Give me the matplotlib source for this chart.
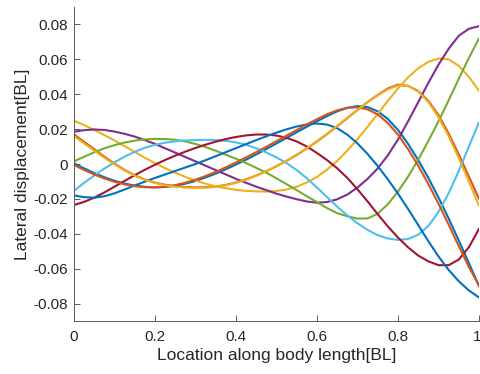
import matplotlib
matplotlib.use("Agg")
import matplotlib.pyplot as plt
from matplotlib.transforms import ScaledTranslation

plt.rcParams['font.family'] = ['Liberation Sans', 'DejaVu Sans']

# Sampling positions along the body (fraction of body length)
location = [0.000, 0.025, 0.050, 0.075, 0.100, 0.125, 0.150, 0.175, 0.200, 0.225,
            0.250, 0.275, 0.300, 0.325, 0.350, 0.375, 0.400, 0.425, 0.450, 0.475,
            0.500, 0.525, 0.550, 0.575, 0.600, 0.625, 0.650, 0.675, 0.700, 0.725,
            0.750, 0.775, 0.800, 0.825, 0.850, 0.875, 0.900, 0.925, 0.950, 0.975,
            1.000]

# Lateral displacement of the midline at successive instants [BL]
frame_1 = [0.0004, -0.0025, -0.0052, -0.0076, -0.0096, -0.0112, -0.0124, -0.0131, -0.0134, -0.0132,
           -0.0125, -0.0113, -0.0097, -0.0077, -0.0055, -0.0030, -0.0003, 0.0025, 0.0055, 0.0086,
           0.0118, 0.0150, 0.0182, 0.0214, 0.0245, 0.0275, 0.0302, 0.0322, 0.0332, 0.0326,
           0.0302, 0.0258, 0.0195, 0.0115, 0.0022, -0.0080, -0.0192, -0.0312, -0.0438, -0.0568,
           -0.0700]
frame_2 = [0.0170, 0.0127, 0.0085, 0.0042, 0.0002, -0.0034, -0.0065, -0.0089, -0.0107, -0.0119,
           -0.0127, -0.0132, -0.0134, -0.0133, -0.0129, -0.0120, -0.0106, -0.0088, -0.0066, -0.0041,
           -0.0013, 0.0018, 0.0052, 0.0089, 0.0129, 0.0172, 0.0217, 0.0263, 0.0310, 0.0355,
           0.0396, 0.0433, 0.0455, 0.0448, 0.0418, 0.0362, 0.0280, 0.0175, 0.0055, -0.0072,
           -0.0200]
frame_3 = [0.0248, 0.0223, 0.0195, 0.0166, 0.0135, 0.0102, 0.0069, 0.0036, 0.0005, -0.0024,
           -0.0050, -0.0074, -0.0095, -0.0113, -0.0128, -0.0139, -0.0148, -0.0154, -0.0157, -0.0158,
           -0.0155, -0.0146, -0.0130, -0.0106, -0.0074, -0.0032, 0.0018, 0.0077, 0.0143, 0.0214,
           0.0288, 0.0362, 0.0433, 0.0497, 0.0549, 0.0586, 0.0605, 0.0600, 0.0563, 0.0500,
           0.0420]
frame_4 = [0.0185, 0.0194, 0.0198, 0.0195, 0.0186, 0.0173, 0.0157, 0.0137, 0.0115, 0.0090,
           0.0065, 0.0040, 0.0015, -0.0010, -0.0035, -0.0060, -0.0085, -0.0108, -0.0130, -0.0150,
           -0.0170, -0.0187, -0.0202, -0.0215, -0.0222, -0.0218, -0.0202, -0.0175, -0.0135, -0.0085,
           -0.0025, 0.0050, 0.0140, 0.0245, 0.0355, 0.0465, 0.0570, 0.0660, 0.0735, 0.0775,
           0.0790]
frame_5 = [0.0015, 0.0042, 0.0067, 0.0090, 0.0108, 0.0123, 0.0134, 0.0141, 0.0144, 0.0143,
           0.0139, 0.0129, 0.0115, 0.0097, 0.0076, 0.0053, 0.0030, 0.0005, -0.0022, -0.0050,
           -0.0082, -0.0116, -0.0150, -0.0185, -0.0218, -0.0253, -0.0282, -0.0300, -0.0313, -0.0312,
           -0.0285, -0.0230, -0.0158, -0.0072, 0.0025, 0.0132, 0.0245, 0.0365, 0.0488, 0.0608,
           0.0720]
frame_6 = [-0.0153, -0.0108, -0.0066, -0.0026, 0.0010, 0.0042, 0.0070, 0.0093, 0.0110, 0.0122,
           0.0130, 0.0135, 0.0137, 0.0138, 0.0137, 0.0133, 0.0124, 0.0110, 0.0090, 0.0066,
           0.0038, 0.0005, -0.0035, -0.0082, -0.0135, -0.0190, -0.0245, -0.0295, -0.0340, -0.0378,
           -0.0408, -0.0427, -0.0435, -0.0430, -0.0405, -0.0355, -0.0275, -0.0168, -0.0040, 0.0100,
           0.0239]
frame_7 = [-0.0235, -0.0217, -0.0193, -0.0163, -0.0130, -0.0097, -0.0064, -0.0033, -0.0004, 0.0023,
           0.0048, 0.0071, 0.0092, 0.0111, 0.0128, 0.0143, 0.0155, 0.0164, 0.0169, 0.0169,
           0.0163, 0.0150, 0.0129, 0.0100, 0.0063, 0.0022, -0.0025, -0.0080, -0.0145, -0.0215,
           -0.0288, -0.0358, -0.0422, -0.0478, -0.0525, -0.0558, -0.0580, -0.0580, -0.0548, -0.0477,
           -0.0372]
frame_8 = [-0.0180, -0.0190, -0.0193, -0.0185, -0.0168, -0.0146, -0.0123, -0.0101, -0.0080, -0.0060,
           -0.0040, -0.0020, 0.0000, 0.0022, 0.0045, 0.0068, 0.0091, 0.0114, 0.0137, 0.0159,
           0.0180, 0.0199, 0.0215, 0.0227, 0.0232, 0.0226, 0.0205, 0.0168, 0.0118, 0.0057,
           -0.0012, -0.0088, -0.0170, -0.0258, -0.0350, -0.0443, -0.0530, -0.0607, -0.0672, -0.0725,
           -0.0765]
frame_9 = [-0.0006, -0.0034, -0.0060, -0.0083, -0.0102, -0.0117, -0.0127, -0.0133, -0.0134, -0.0130,
           -0.0121, -0.0107, -0.0090, -0.0069, -0.0045, -0.0019, 0.0009, 0.0038, 0.0068, 0.0099,
           0.0131, 0.0163, 0.0195, 0.0227, 0.0257, 0.0285, 0.0308, 0.0322, 0.0325, 0.0313,
           0.0284, 0.0235, 0.0168, 0.0085, -0.0010, -0.0115, -0.0228, -0.0347, -0.0470, -0.0590,
           -0.0697]
frame_10 = [0.0160, 0.0118, 0.0077, 0.0036, -0.0002, -0.0037, -0.0067, -0.0091, -0.0109, -0.0122,
            -0.0130, -0.0135, -0.0137, -0.0136, -0.0131, -0.0122, -0.0108, -0.0090, -0.0067, -0.0041,
            -0.0012, 0.0019, 0.0054, 0.0091, 0.0131, 0.0174, 0.0219, 0.0265, 0.0310, 0.0354,
            0.0394, 0.0428, 0.0450, 0.0448, 0.0415, 0.0355, 0.0268, 0.0160, 0.0035, -0.0100,
            -0.0240]

frames = [frame_1, frame_2, frame_3, frame_4, frame_5,
          frame_6, frame_7, frame_8, frame_9, frame_10]

x_ticks = [0, 0.2, 0.4, 0.6, 0.8, 1]
x_tick_labels = ['0', '0.2', '0.4', '0.6', '0.8', '1']
y_ticks = [-0.08, -0.06, -0.04, -0.02, 0, 0.02, 0.04, 0.06, 0.08]
y_tick_labels = ['-0.08', '-0.06', '-0.04', '-0.02', '0', '0.02', '0.04', '0.06', '0.08']

# MATLAB default line colour order
colour_order = ['#0072BD', '#D95319', '#EDB120', '#7E2F8E',
                '#77AC30', '#4DBEEE', '#A2142F']

fig = plt.figure(figsize=(4.81, 3.74), dpi=100)
ax = fig.add_axes([74 / 481, 53 / 374, 405 / 481, 314 / 374])

for i, frame in enumerate(frames):
    ax.plot(location, frame, color=colour_order[i % len(colour_order)],
            linewidth=1.5, solid_joinstyle='round', solid_capstyle='round')

ax.set_xlim(0, 1)
ax.set_ylim(-0.09, 0.09)
ax.set_xticks(x_ticks)
ax.set_xticklabels(x_tick_labels)
ax.set_yticks(y_ticks)
ax.set_yticklabels(y_tick_labels)

axis_grey = '#262626'
for side in ('top', 'right'):
    ax.spines[side].set_visible(False)
for side in ('left', 'bottom'):
    ax.spines[side].set_color('#5a5a5a')
    ax.spines[side].set_linewidth(0.7)
ax.tick_params(direction='in', length=4, width=0.7, color='#5a5a5a',
               labelsize=11, labelcolor=axis_grey)
ax.tick_params(axis='x', pad=6.5)
ax.tick_params(axis='y', pad=4.5)

# keep the last x tick label inside the canvas
last_label = ax.get_xticklabels()[-1]
last_label.set_transform(last_label.get_transform()
                         + ScaledTranslation(-2 / 100, 0, fig.dpi_scale_trans))

ax.set_xlabel('Location along body length[BL]', fontsize=12.5, color=axis_grey, labelpad=3)
ax.set_ylabel('Lateral displacement[BL]', fontsize=12.5, color=axis_grey, labelpad=2)

fig.savefig('out.png', dpi=100)
